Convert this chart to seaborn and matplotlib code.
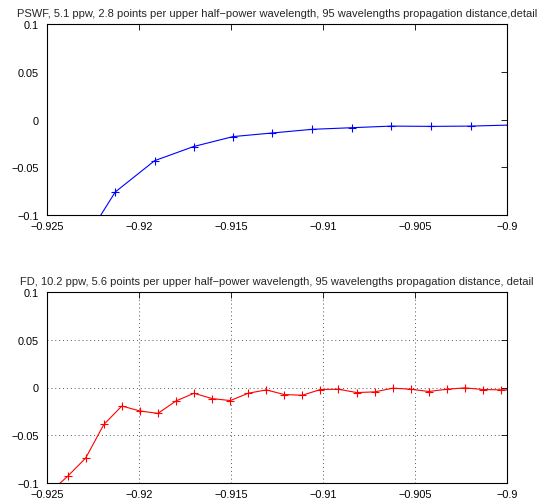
import matplotlib
matplotlib.use("Agg")
import matplotlib.pyplot as plt
import seaborn as sns
import numpy as np
import pandas as pd
from matplotlib.ticker import FixedLocator, FixedFormatter

# ---- data ----
pswf_x = [-0.92344, -0.92129, -0.91915, -0.91703, -0.91489, -0.91275, -0.91060,
          -0.90844, -0.90629, -0.90413, -0.90197, -0.89982]
pswf_y = [-0.142, -0.0759, -0.0431, -0.0283, -0.0179, -0.0141, -0.0103,
          -0.0086, -0.0069, -0.0072, -0.0069, -0.0058]

fd_x = [-0.92486, -0.92388, -0.92290, -0.92191, -0.92093, -0.91995, -0.91897,
        -0.91799, -0.91701, -0.91603, -0.91504, -0.91406, -0.91308, -0.91210,
        -0.91112, -0.91014, -0.90916, -0.90817, -0.90719, -0.90621, -0.90523,
        -0.90425, -0.90327, -0.90229, -0.90130, -0.90032, -0.89934]
fd_y = [-0.110, -0.0930, -0.0739, -0.0387, -0.0194, -0.0246, -0.0271,
        -0.0141, -0.0060, -0.0116, -0.0137, -0.0060, -0.0025, -0.0074,
        -0.0081, -0.0021, -0.0018, -0.0053, -0.0046, -0.0007, -0.0018,
        -0.0042, -0.0018, -0.0004, -0.0021, -0.0025, -0.0025]

x_ticks = [-0.925, -0.92, -0.915, -0.91, -0.905, -0.9]
x_labels = ["\u22120.925", "\u22120.92", "\u22120.915", "\u22120.91", "\u22120.905", "\u22120.9"]
y_ticks = [-0.1, -0.05, 0, 0.05, 0.1]
y_labels = ["\u22120.1", "\u22120.05", "0", "0.05", "0.1"]

title_top = "PSWF, 5.1 ppw, 2.8 points per upper half\u2212power wavelength, 95 wavelengths propagation distance,detail"
title_bot = "FD, 10.2 ppw, 5.6 points per upper half\u2212power wavelength, 95 wavelengths propagation distance, detail"

sns.set_style("white")
plt.rcParams['font.family'] = ['Liberation Sans', 'DejaVu Sans']

fig = plt.figure(figsize=(5.46, 5.02), dpi=100)
W, H = 546, 502
ax1 = fig.add_axes([47 / W, 1 - 216 / H, 460 / W, 191 / H])
ax2 = fig.add_axes([47 / W, 1 - 484 / H, 460 / W, 191 / H])

df1 = pd.DataFrame({"x": pswf_x, "y": pswf_y})
df2 = pd.DataFrame({"x": fd_x, "y": fd_y})

sns.lineplot(data=df1, x="x", y="y", ax=ax1, color="blue", marker="+",
             markersize=6, markeredgewidth=0.8, markeredgecolor="blue",
             linewidth=0.8, sort=False, estimator=None)
sns.lineplot(data=df2, x="x", y="y", ax=ax2, color="red", marker="+",
             markersize=6, markeredgewidth=0.8, markeredgecolor="red",
             linewidth=0.8, sort=False, estimator=None)

for ax, title in ((ax1, title_top), (ax2, title_bot)):
    ax.set_xlim(-0.925, -0.9)
    ax.set_ylim(-0.1, 0.1)
    ax.xaxis.set_major_locator(FixedLocator(x_ticks))
    ax.xaxis.set_major_formatter(FixedFormatter(x_labels))
    ax.yaxis.set_major_locator(FixedLocator(y_ticks))
    ax.yaxis.set_major_formatter(FixedFormatter(y_labels))
    ax.set_xlabel("")
    ax.set_ylabel("")
    ax.tick_params(direction="in", top=True, right=True, length=4, width=0.6,
                   labelsize=7.8, colors="black")
    ax.tick_params(axis="x", pad=4)
    ax.tick_params(axis="y", pad=6)
    for sp in ax.spines.values():
        sp.set_visible(True)
        sp.set_color("black")
        sp.set_linewidth(0.8)
    ax.set_title(title, fontsize=8.05, pad=6)

ax2.grid(True, linestyle=(0, (1, 3)), color="#555555", linewidth=0.7)
ax1.grid(False)

fig.savefig("out.png", dpi=100)
